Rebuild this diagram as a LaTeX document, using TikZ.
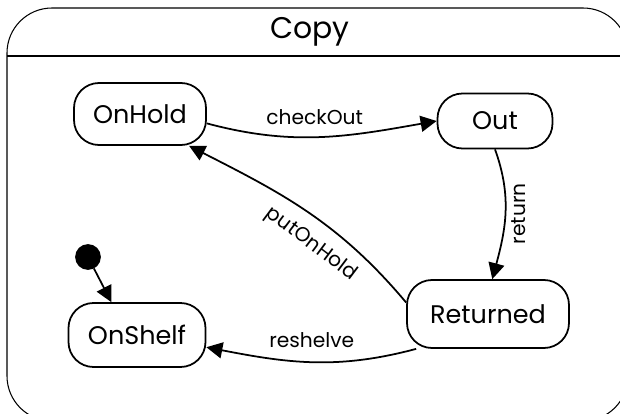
\documentclass[tikz,border=0pt]{standalone}
\usepackage{fontspec}
\setmainfont{Poppins}
\usetikzlibrary{arrows.meta, calc, positioning}
\tikzset{> = { Triangle[length = 3.2mm, width = 3.2mm] }}
\tikzset{state/.style = {draw, rectangle, rounded corners = 0.5cm, inner sep = 0pt, font = \fontsize{14.5}{16}\selectfont}}
\tikzset{lbl/.style = {font = \fontsize{11.5}{13}\selectfont}}

\begin{document}
\begin{tikzpicture}[line width = 1pt]
		\useasboundingbox (0, 0) rectangle (12.4, 8.28);
		\begin{scope}
			\clip (0, 0) rectangle (12.4, 8.28);
			\draw [line width = 0.6pt, rounded corners = 0.9cm] (0.14, -0.14) rectangle (12.56, 8.12);
			\draw [line width = 0.6pt] (0.14, 7.16) -- (12.56, 7.16);
		\end{scope}
		\node [font = \fontsize{17}{19}\selectfont] (title) at (6.2, 7.64) {Copy};

		\node [state, minimum width = 2.64cm, minimum height = 1.24cm] (OnHold) at (2.8, 6.0) {OnHold};
		\node [state, minimum width = 2.3cm, minimum height = 1.1cm] (Out) at (9.9, 5.86) {Out};
		\node [state, minimum width = 3.24cm, minimum height = 1.36cm] (Returned) at (9.76, 2.0) {Returned};
		\node [state, minimum width = 2.74cm, minimum height = 1.28cm] (OnShelf) at (2.74, 1.58) {OnShelf};
		\node [draw, circle, fill, minimum size = 0.48cm, inner sep = 0pt] (init) at (1.76, 3.14) {};

		\draw [->] (init) -- (OnShelf.128);
		\draw [->] (OnHold.-8) to [out = -15, in = 190] node [lbl, above = 0.12cm, pos = 0.47] {checkOut} (Out.west);
		\draw [->] (Out.south) to [out = -70, in = 75] node [lbl, rotate = 90, anchor = north] {return} (Returned.83);
		\draw [->] (Returned.172) to [out = 130, in = -27] node [lbl, sloped, below = 0.14cm, pos = 0.41] {putOnHold} (OnHold.-33);
		\draw [->] ([xshift = 0.2cm]Returned.south west) to [out = 195, in = -11] node [lbl, above = 0.15cm] {reshelve} (OnShelf.-10);
	\end{tikzpicture}
\end{document}
